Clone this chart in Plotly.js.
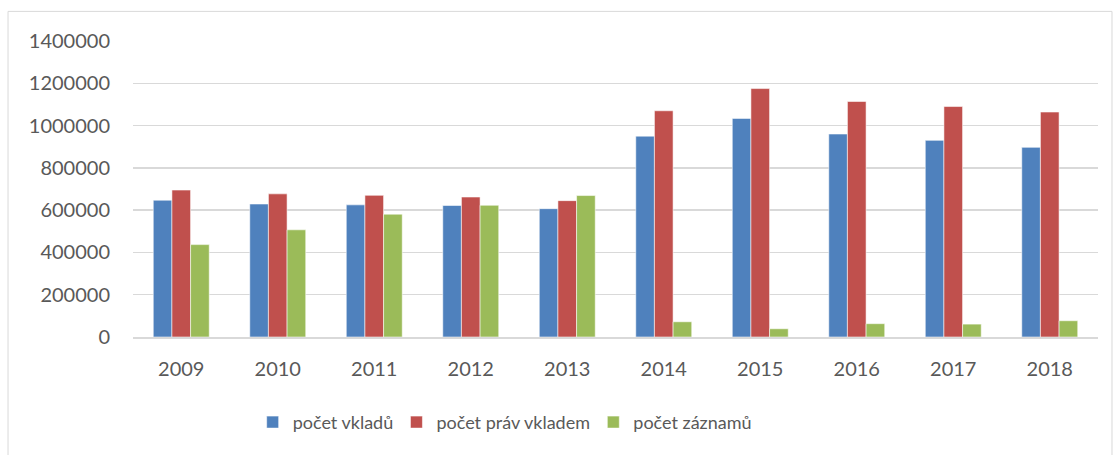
<!DOCTYPE html>
<html>
<head>
<meta charset="utf-8">
<script src="https://cdn.plot.ly/plotly-3.0.1.min.js"></script>
<style>
  html, body { margin: 0; padding: 0; background: #ffffff; }
  #chart { width: 1113px; height: 455px; }
</style>
</head>
<body>
<div id="chart"></div>
<script>
const years = ['2009', '2010', '2011', '2012', '2013', '2014', '2015', '2016', '2017', '2018'];
const pocetVkladu = [647000, 629000, 625000, 622000, 607000, 950000, 1034000, 960000, 930000, 897000];
const pocetPravVkladem = [695000, 677000, 670000, 662000, 645000, 1070000, 1175000, 1114000, 1090000, 1064000];
const pocetZaznamu = [437000, 507000, 581000, 623000, 669000, 72000, 39000, 63000, 61000, 77000];
const seriesNames = ['počet vkladů', 'počet práv vkladem', 'počet záznamů'];
const yTicks = [0, 200000, 400000, 600000, 800000, 1000000, 1200000, 1400000];

const colors = ['#4F81BD', '#C0504D', '#9BBB59'];
const font = 'Lato, "Open Sans", sans-serif';
const legendIds = ['legend', 'legend2', 'legend3'];
const legendX = [0.124, 0.273, 0.477];

const traces = [pocetVkladu, pocetPravVkladem, pocetZaznamu].map((vals, i) => ({
  type: 'bar',
  name: seriesNames[i],
  x: years,
  y: vals,
  legend: legendIds[i],
  marker: { color: colors[i], line: { color: 'rgba(255,255,255,0.55)', width: 1 } },
  hoverinfo: 'x+y+name'
}));

const legendBase = {
  orientation: 'h',
  xanchor: 'left',
  y: -0.226,
  yanchor: 'top',
  font: { family: font, size: 18, color: '#595959' },
  bgcolor: 'rgba(0,0,0,0)'
};

const layout = {
  width: 1113,
  height: 455,
  paper_bgcolor: '#ffffff',
  plot_bgcolor: '#ffffff',
  margin: { l: 133, r: 15, t: 41, b: 118 },
  barmode: 'group',
  bargap: 0.42,
  bargroupgap: 0,
  font: { family: font, size: 20, color: '#595959' },
  xaxis: {
    type: 'category',
    showgrid: false,
    showline: true,
    linecolor: '#d9d9d9',
    linewidth: 1.5,
    ticks: '',
    ticklabelstandoff: 13,
    tickfont: { family: font, size: 20, color: '#595959' }
  },
  yaxis: {
    range: [0, 1400000],
    tickvals: yTicks,
    ticktext: yTicks.map(String),
    showgrid: true,
    gridcolor: '#d9d9d9',
    gridwidth: 1.5,
    zeroline: false,
    showline: false,
    ticks: '',
    ticklabelstandoff: 22,
    tickfont: { family: font, size: 20, color: '#595959' }
  },
  legend: Object.assign({}, legendBase, { x: legendX[0] }),
  legend2: Object.assign({}, legendBase, { x: legendX[1] }),
  legend3: Object.assign({}, legendBase, { x: legendX[2] }),
  shapes: [
    { type: 'rect', xref: 'paper', yref: 'paper', x0: -0.1295, x1: 1.0145, y0: -0.42, y1: 1.1,
      line: { color: '#d9d9d9', width: 1 }, fillcolor: 'rgba(0,0,0,0)', layer: 'below' }
  ],
  showlegend: true
};

Plotly.newPlot('chart', traces, layout, { displayModeBar: false, staticPlot: true });
</script>
</body>
</html>
